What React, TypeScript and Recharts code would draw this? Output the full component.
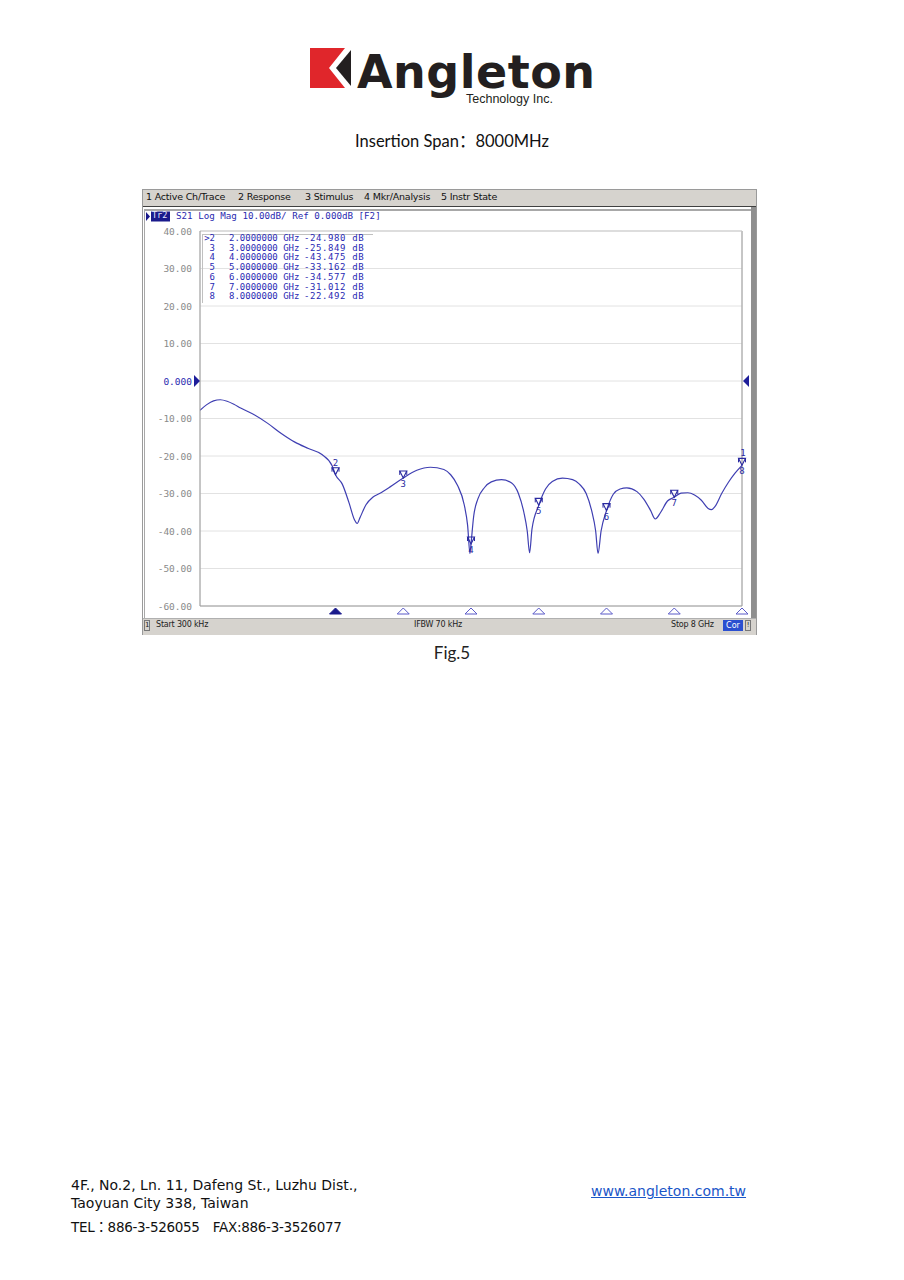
import React from 'react';
import { LineChart, Line, XAxis, YAxis, CartesianGrid, ReferenceDot, ReferenceLine } from 'recharts';

// ---- Data ----
const freqGHz = [
  0, 0.1, 0.2, 0.3, 0.4, 0.5, 0.6, 0.8, 1.0, 1.2, 1.4, 1.6, 1.8, 1.95, 2.0, 2.1, 2.2, 2.28, 2.32, 2.36,
  2.45, 2.55, 2.65, 2.8, 3.0, 3.2, 3.4, 3.6, 3.7, 3.8, 3.9, 3.95, 3.985, 4.0, 4.04, 4.1, 4.2, 4.3, 4.45,
  4.6, 4.7, 4.78, 4.83, 4.865, 4.9, 5.0, 5.1, 5.2, 5.35, 5.5, 5.6, 5.7, 5.78, 5.84, 5.875, 5.92, 6.0, 6.1,
  6.2, 6.3, 6.45, 6.55, 6.65, 6.72, 6.8, 6.9, 7.0, 7.1, 7.2, 7.3, 7.4, 7.5, 7.55, 7.6, 7.7, 7.8, 7.9, 8.0,
];
const s21dB = [
  -7.8, -6.3, -5.3, -5.0, -5.4, -6.2, -7.2, -9.0, -11.3, -14.0, -16.3, -18.0, -19.6, -22.6, -24.98, -27.5, -32.5, -37.0, -38.0, -36.5,
  -33.0, -31.0, -30.0, -28.3, -25.85, -23.8, -23.0, -23.6, -25.0, -27.8, -33.0, -38.5, -46.0, -43.475, -36.0, -31.5, -28.4, -26.9, -26.3,
  -27.2, -30.0, -35.0, -40.0, -45.8, -39.5, -33.162, -28.8, -26.8, -25.9, -26.3, -27.5, -30.0, -34.5, -40.0, -46.0, -40.0, -34.577, -30.2,
  -28.8, -28.5, -29.5, -31.5, -34.5, -36.8, -35.0, -32.0, -31.012, -29.9, -29.8, -30.4, -31.8, -34.0, -34.3, -33.5, -30.0, -27.0, -24.5, -22.492,
];

const yTicks = [40, 30, 20, 10, 0, -10, -20, -30, -40, -50, -60];
const yTickLabels = ['40.00', '30.00', '20.00', '10.00', '0.000', '-10.00', '-20.00', '-30.00', '-40.00', '-50.00', '-60.00'];
const xGridTicks = [0, 0.8, 1.6, 2.4, 3.2, 4.0, 4.8, 5.6, 6.4, 7.2, 8.0];

const markerIds = ['2', '3', '4', '5', '6', '7', '8'];
const markerFreqs = [2, 3, 4, 5, 6, 7, 8];
const markerValues = [-24.98, -25.849, -43.475, -33.162, -34.577, -31.012, -22.492];
const markerFreqLabels = ['2.0000000 GHz', '3.0000000 GHz', '4.0000000 GHz', '5.0000000 GHz', '6.0000000 GHz', '7.0000000 GHz', '8.0000000 GHz'];
const markerValueLabels = ['-24.980 dB', '-25.849 dB', '-43.475 dB', '-33.162 dB', '-34.577 dB', '-31.012 dB', '-22.492 dB'];
const activeMarker = '2';

const menuItems = ['1 Active Ch/Trace', '2 Response', '3 Stimulus', '4 Mkr/Analysis', '5 Instr State'];
const menuX = [146, 238, 305, 364, 441];

const chartData = freqGHz.map((f, i) => ({ f, db: s21dB[i] }));

const TRACE = '#3f3fb2';
const MKBLUE = '#2a2ab4';
const MONO = '"DejaVu Sans Mono", "Liberation Mono", monospace';

const YTick = (props: any) => {
  const { x, y, payload } = props;
  const idx = yTicks.indexOf(payload.value);
  const isRef = payload.value === 0;
  return (
    <g>
      <text x={x} y={y} dy={3.5} textAnchor="end" fontSize={9.5} fontFamily={MONO} fill={isRef ? '#2a2ab0' : '#8a8a8a'}>
        {yTickLabels[idx]}
      </text>
      {isRef && <polygon points={`${x + 2},${y - 6} ${x + 8},${y} ${x + 2},${y + 6}`} fill="#1e1e9a" />}
    </g>
  );
};

const makeFlag = (id: string, active: boolean, extraTop?: string) => (p: any) => {
  const { cx, cy } = p;
  if (cx == null || cy == null) return <g />;
  return (
    <g>
      <polygon points={`${cx - 3.5},${cy - 7} ${cx + 3.5},${cy - 7} ${cx},${cy}`} fill="none" stroke="#2a2aa0" strokeWidth={1.1} />
      <line x1={cx - 3.5} y1={cy - 7} x2={cx - 3.5} y2={cy - 3} stroke="#2a2aa0" strokeWidth={1} />
      <line x1={cx + 3.5} y1={cy - 7} x2={cx + 3.5} y2={cy - 3} stroke="#2a2aa0" strokeWidth={1} />
      {active ? (
        <text x={cx} y={cy - 9} textAnchor="middle" fontSize={9} fontFamily={MONO} fill="#2a2aa0">{id}</text>
      ) : (
        <text x={cx} y={cy + 9} textAnchor="middle" fontSize={9} fontFamily={MONO} fill="#2a2aa0">{id}</text>
      )}
      {extraTop && (
        <text x={cx + 1} y={cy - 9} textAnchor="middle" fontSize={9} fontFamily={MONO} fill="#2a2aa0">{extraTop}</text>
      )}
    </g>
  );
};

const makeBottomTri = (active: boolean) => (p: any) => {
  const { cx, cy } = p;
  if (cx == null || cy == null) return <g />;
  return (
    <polygon
      points={`${cx},${cy + 2} ${cx + 6},${cy + 8} ${cx - 6},${cy + 8}`}
      fill={active ? '#1a1a8c' : '#ffffff'}
      stroke={active ? '#1a1a8c' : '#5a5ac8'}
      strokeWidth={1}
    />
  );
};

const RightRef = (p: any) => {
  const { cx, cy } = p;
  if (cx == null || cy == null) return <g />;
  return <polygon points={`${cx + 1},${cy} ${cx + 7},${cy - 6} ${cx + 7},${cy + 6}`} fill="#1e1e9a" />;
};

const abs = (left: number, top: number, extra: React.CSSProperties = {}): React.CSSProperties => ({
  position: 'absolute',
  left,
  top,
  whiteSpace: 'pre',
  ...extra,
});

const Logo = () => (
  <svg style={{ position: 'absolute', left: 305, top: 44 }} width={300} height={66}>
    <polygon points="5,4 40,4 24,24 40,44 5,44" fill="#e0262b" />
    <polygon points="31,24 46,6 46,42" fill="#231f20" />
    <text x={52} y={44} fontFamily='"DejaVu Sans", sans-serif' fontWeight={900} fontSize={46} fill="#231f20" letterSpacing={0.5}>
      Angleton
    </text>
    <text x={161} y={59} fontFamily='"Liberation Sans", Arial, sans-serif' fontSize={12.5} fill="#231f20">
      Technology Inc.
    </text>
  </svg>
);

const FOOT = '"DejaVu Sans", "Noto Sans CJK TC", sans-serif';

export default function App() {
  return (
    <div style={{ position: 'absolute', left: 0, top: 0, width: 904, height: 1280, background: '#ffffff', overflow: 'hidden' }}>
      <Logo />
      <div style={abs(0, 128, { width: 904, textAlign: 'center', fontFamily: 'Lato, "Noto Sans CJK SC", sans-serif', fontSize: 16.5, color: '#111' })}>
        {'Insertion Span：8000MHz'}
      </div>

      {/* Analyzer screenshot frame */}
      <div style={abs(142, 189, { width: 615, height: 446, background: '#ffffff', boxSizing: 'border-box', border: '1px solid #9a9a9a' })} />
      <div style={abs(143, 190, { width: 613, height: 16, background: '#d6d3ce' })} />
      <div style={abs(143, 206, { width: 613, height: 1, background: '#404040' })} />
      <div style={abs(144, 209, { width: 608, height: 409, boxSizing: 'border-box', borderTop: '2px solid #a8a8a8', borderLeft: '1px solid #a8a8a8' })} />
      <div style={abs(751, 207, { width: 5, height: 412, background: '#8f8f8f' })} />
      <div style={abs(143, 618, { width: 613, height: 16, background: '#d6d3ce', borderTop: '1px solid #b0b0b0' })} />

      {menuItems.map((m, i) => (
        <div key={m} style={abs(menuX[i], 191, { fontFamily: '"DejaVu Sans", sans-serif', fontSize: 9.5, color: '#111', letterSpacing: -0.2 })}>
          {m}
        </div>
      ))}

      {/* trace header */}
      <svg style={{ position: 'absolute', left: 145, top: 211 }} width={30} height={12}>
        <polygon points="1,1 5,5.5 1,10" fill="#1a1a8c" />
        <rect x={6} y={0.5} width={19} height={10} fill="#1a1a8c" />
      </svg>
      <div style={abs(152, 210, { fontFamily: MONO, fontSize: 8.5, color: '#e8e8ff' })}>Tr2</div>
      <div style={abs(176, 210, { fontFamily: MONO, fontSize: 9.2, color: '#2a2ab0' })}>
        {'S21 Log Mag 10.00dB/ Ref 0.000dB [F2]'}
      </div>

      {/* Chart */}
      <div style={{ position: 'absolute', left: 145, top: 224 }}>
        <LineChart width={610} height={395} data={chartData} margin={{ top: 7, right: 13, bottom: 12, left: 0 }}>
          <CartesianGrid stroke="#e2e2e2" strokeWidth={1} />
          <XAxis
            dataKey="f"
            type="number"
            domain={[0, 8]}
            ticks={xGridTicks}
            tick={false}
            tickLine={false}
            height={1}
            axisLine={{ stroke: '#9a9a9a' }}
            allowDataOverflow
          />
          <YAxis
            type="number"
            domain={[-60, 40]}
            ticks={yTicks}
            width={55}
            tick={<YTick />}
            tickLine={false}
            axisLine={{ stroke: '#9a9a9a' }}
            interval={0}
            allowDataOverflow
          />
          <ReferenceLine x={8} stroke="#9a9a9a" ifOverflow="visible" />
          <ReferenceLine y={40} stroke="#c9c9c9" ifOverflow="visible" />
          <Line
            type="monotone"
            dataKey="db"
            stroke={TRACE}
            strokeWidth={1.2}
            dot={false}
            isAnimationActive={false}
          />
          {markerIds.map((id, i) => (
            <ReferenceDot
              key={'flag' + id}
              x={markerFreqs[i]}
              y={markerValues[i]}
              ifOverflow="visible"
              shape={makeFlag(id, id === activeMarker, id === '8' ? '1' : undefined)}
            />
          ))}
          {markerIds.map((id, i) => (
            <ReferenceDot
              key={'tri' + id}
              x={markerFreqs[i]}
              y={-60}
              ifOverflow="visible"
              shape={makeBottomTri(id === activeMarker)}
            />
          ))}
          <ReferenceDot x={8} y={0} ifOverflow="visible" shape={RightRef} />
        </LineChart>
      </div>

      {/* Marker table */}
      <div style={abs(202, 234, { width: 170, height: 68, borderLeft: '1px solid #c0c0c0', borderTop: '1px solid #c0c0c0' })} />
      {markerIds.map((id, i) => (
        <React.Fragment key={'row' + id}>
          <div style={abs(203, 233 + i * 9.7, { width: 12, textAlign: 'right', fontFamily: MONO, fontSize: 9, color: MKBLUE, lineHeight: '10px' })}>
            {(id === activeMarker ? '>' : '') + id}
          </div>
          <div style={abs(229, 233 + i * 9.7, { fontFamily: MONO, fontSize: 9, color: MKBLUE, lineHeight: '10px' })}>
            {markerFreqLabels[i]}
          </div>
          <div style={abs(304, 233 + i * 9.7, { fontFamily: MONO, fontSize: 9, color: MKBLUE, lineHeight: '10px', letterSpacing: 0.6 })}>
            {markerValueLabels[i]}
          </div>
        </React.Fragment>
      ))}

      {/* status bar */}
      <div style={abs(144, 620, { width: 6, height: 11, border: '1px solid #777', boxSizing: 'border-box', fontFamily: MONO, fontSize: 7, lineHeight: '9px', textAlign: 'center', color: '#222' })}>1</div>
      <div style={abs(156, 620, { fontFamily: '"DejaVu Sans", sans-serif', fontSize: 8, color: '#222', letterSpacing: -0.2 })}>Start 300 kHz</div>
      <div style={abs(414, 620, { fontFamily: '"DejaVu Sans", sans-serif', fontSize: 8, color: '#222', letterSpacing: -0.2 })}>IFBW 70 kHz</div>
      <div style={abs(671, 620, { fontFamily: '"DejaVu Sans", sans-serif', fontSize: 8, color: '#222', letterSpacing: -0.2 })}>Stop 8 GHz</div>
      <div style={abs(723, 620, { width: 20, height: 11, background: '#2b4fd0', fontFamily: '"DejaVu Sans", sans-serif', fontSize: 8, lineHeight: '11px', textAlign: 'center', color: '#fff' })}>Cor</div>
      <div style={abs(745, 620, { width: 6, height: 11, border: '1px solid #777', boxSizing: 'border-box', fontFamily: MONO, fontSize: 7, lineHeight: '9px', textAlign: 'center', color: '#222' })}>!</div>

      <div style={abs(0, 642, { width: 904, textAlign: 'center', fontFamily: 'Lato, sans-serif', fontSize: 17, color: '#222' })}>Fig.5</div>

      {/* footer */}
      <div style={abs(71, 1176, { fontFamily: FOOT, fontSize: 14, color: '#111', lineHeight: '18px' })}>
        {'4F., No.2, Ln. 11, Dafeng St., Luzhu Dist.,\nTaoyuan City 338, Taiwan'}
      </div>
      <div style={abs(71, 1216, { fontFamily: FOOT, fontSize: 13.5, color: '#111', letterSpacing: -0.3 })}>
        {'TEL：886-3-526055　FAX:886-3-3526077'}
      </div>
      <div style={abs(591, 1183, { fontFamily: FOOT, fontSize: 14, color: '#1a56c8', textDecoration: 'underline' })}>
        www.angleton.com.tw
      </div>
    </div>
  );
}
